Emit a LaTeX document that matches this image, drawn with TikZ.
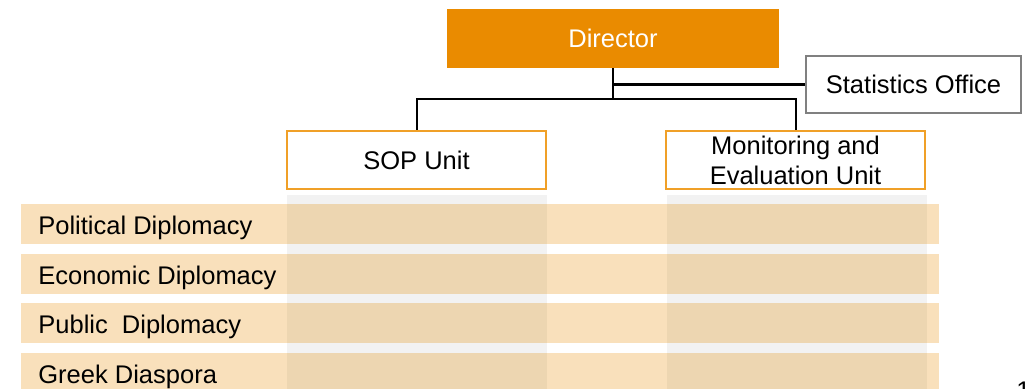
\documentclass[tikz,border=0pt]{standalone}
\usepackage{fontspec}
\setmainfont{Liberation Sans}
\definecolor{dirorange}{RGB}{234,139,0}
\definecolor{boxorange}{RGB}{240,160,40}
\definecolor{rowpeach}{RGB}{249,224,187}
\definecolor{colgrey}{RGB}{242,242,242}
\definecolor{overlap}{RGB}{237,214,177}
\definecolor{statgrey}{RGB}{128,128,128}
\newcommand\orgfont{\fontsize{12.75}{15}\selectfont}

\begin{document}
\begin{tikzpicture}[x=0.5pt,y=-0.5pt]
\clip (0,0) rectangle (1027,388);
% columns behind the rows
\foreach \cx in {287,667}
    \fill[colgrey] (\cx,195) rectangle ++(260,200);
% rows
\foreach \ry/\name/\txt in {204/PD/Political Diplomacy,
                            254/ED/Economic Diplomacy,
                            303/PuD/Public\ \ Diplomacy,
                            353/GD/Greek Diaspora} {
    \fill[rowpeach] (21,\ry) rectangle ++(918,40);
    \foreach \cx in {287,667}
        \fill[overlap] (\cx,\ry) rectangle ++(260,40);
    \node[anchor=base west, inner sep=0pt, font=\orgfont] (\name) at (38,\ry+30) {\txt};
}

\begin{scope}[every node/.style={rectangle, inner sep=0pt, align=center, font=\orgfont}]
    \node[fill=dirorange, text=white, minimum width=166pt, minimum height=29.5pt] (Dir) at (613,38.5) {Director};
    \node[draw=statgrey, line width=0.75pt, fill=white, minimum width=107.5pt, minimum height=28.5pt] (Stats) at (913.5,84.5) {Statistics Office};
    \node[draw=boxorange, line width=0.75pt, fill=white, minimum width=129.5pt, minimum height=29pt] (SOP) at (416.5,160) {SOP Unit};
    \node[draw=boxorange, line width=0.75pt, fill=white, minimum width=129.5pt, minimum height=29pt] (ME) at (795.5,160) {Monitoring and\\Evaluation Unit};
    \node[anchor=north west] (PageNo) at (1016,382) {1};
\end{scope}

\begin{scope}[every path/.style={line width=1pt}]
    \coordinate (J) at (613,99);
    % Director down to the units
    \draw (Dir.south) -- (J);
    \draw (J) -| (SOP.north);
    \draw (J) -| (ME.north);
    % staff office
    \draw[line width=1.5pt] (Dir.south |- Stats.west) -- (Stats.west);
\end{scope}
\end{tikzpicture}
\end{document}
